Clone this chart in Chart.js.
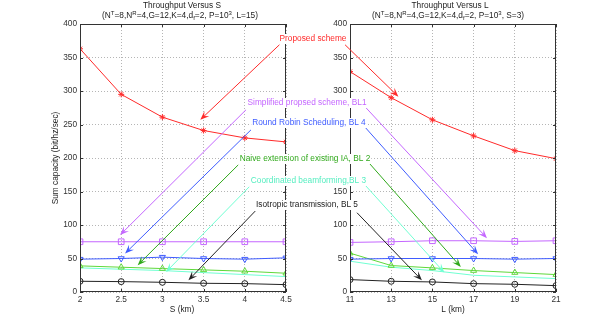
<!DOCTYPE html>
<html>
<head>
<meta charset="utf-8">
<script src="https://cdn.jsdelivr.net/npm/chart.js@4.4.0/dist/chart.umd.min.js"></script>
<style>
body { margin: 0; background: #fff; }
#wrap { position: relative; width: 614px; height: 329px; overflow: hidden; }
#wrap canvas { position: absolute; left: 0; top: 0; }
.ttl { position: absolute; transform: translateX(-50%); font: 8.3px "Liberation Sans", Arial, sans-serif; color: #222; white-space: nowrap; line-height: 9px; }
.ttl sup { font-size: 6px; vertical-align: 3px; line-height: 0; }
.ttl sub { font-size: 6px; vertical-align: -2px; line-height: 0; }
</style>
</head>
<body>
<div id="wrap">
  <canvas id="left" width="614" height="329"></canvas>
  <canvas id="right" width="614" height="329"></canvas>
  <canvas id="overlay" width="614" height="329"></canvas>
  <div class="ttl" style="left:182px; top:1px;">Throughput Versus S</div>
  <div class="ttl" style="left:180px; top:11px;">(N<sup>T</sup>=8,N<sup>R</sup>=4,G=12,K=4,d<sub>f</sub>=2, P=10<sup>3</sup>, L=15)</div>
  <div class="ttl" style="left:450px; top:1px;">Throughput Versus L</div>
  <div class="ttl" style="left:448px; top:11px;">(N<sup>T</sup>=8,N<sup>R</sup>=4,G=12,K=4,d<sub>f</sub>=2, P=10<sup>3</sup>, S=3)</div>
</div>
<script>
(function() {
    'use strict';

    // x values
    var sValues = [2, 2.5, 3, 3.5, 4, 4.5];
    var lValues = [11, 13, 15, 17, 19, 21];
    var yTicks = [0, 50, 100, 150, 200, 250, 300, 350, 400];

    // throughput versus S
    var proposedS = [363, 295, 261, 241, 230, 224];
    var bl1S = [75, 75, 75, 75, 75, 75];
    var bl4S = [49, 50, 52, 50, 49, 51];
    var bl2S = [39, 37, 35, 33, 31, 28];
    var bl3S = [36, 34, 32, 29, 26, 23];
    var bl5S = [16, 15.5, 14.5, 13, 12.5, 11];

    // throughput versus L
    var proposedL = [329, 290, 257, 233, 211, 199];
    var bl1L = [74, 75, 76.5, 76.5, 75.5, 76.5];
    var bl4L = [49, 50, 50, 50, 49, 50];
    var bl2L = [58, 39.5, 36, 32, 29, 26];
    var bl3L = [46, 37, 32, 25, 22.5, 20];
    var bl5L = [18.5, 16, 15, 12.5, 11.5, 9.5];

    var FONT = '"Liberation Sans", Arial, sans-serif';
    var RED = '#ff2a2a', MAG = '#c466ff', BLUE = '#3f5cff',
        GREEN = '#5fd83a', GREEN_TXT = '#2fa81a', CYAN = '#70ffd2', CYAN_TXT = '#55eec0', BLACK = '#222';

    function series(data, color, style, rotation, radius) {
        return {
            data: data,
            borderColor: color,
            backgroundColor: 'transparent',
            borderWidth: 1,
            pointStyle: style,
            pointRotation: rotation || 0,
            pointRadius: style === false ? 0 : (radius || 3),
            pointBorderColor: color,
            pointBorderWidth: 1,
            tension: 0
        };
    }

    function pairs(xs, ys) {
        return xs.map(function(x, i) { return { x: x, y: ys[i] }; });
    }

    // box + inward ticks like the original
    var boxPlugin = {
        id: 'box',
        afterDraw: function(chart) {
            var a = chart.chartArea, ctx = chart.ctx;
            var xs = chart.scales.x, ys = chart.scales.y;
            ctx.save();
            ctx.strokeStyle = '#333';
            ctx.lineWidth = 1;
            ctx.strokeRect(a.left + 0.5, a.top + 0.5, a.right - a.left - 1, a.bottom - a.top - 1);
            ctx.beginPath();
            xs.ticks.forEach(function(t) {
                var px = Math.round(xs.getPixelForValue(t.value)) + 0.5;
                ctx.moveTo(px, a.bottom); ctx.lineTo(px, a.bottom - 3);
                ctx.moveTo(px, a.top); ctx.lineTo(px, a.top + 3);
            });
            ys.ticks.forEach(function(t) {
                var py = Math.round(ys.getPixelForValue(t.value)) + 0.5;
                ctx.moveTo(a.left, py); ctx.lineTo(a.left + 3, py);
                ctx.moveTo(a.right, py); ctx.lineTo(a.right - 3, py);
            });
            ctx.stroke();
            ctx.restore();
        }
    };

    function makeChart(id, xs, sets, xMin, xMax, padLeft, padRight) {
        return new Chart(document.getElementById(id), {
            type: 'line',
            data: {
                datasets: [
                    series(pairs(xs, sets[0]), RED, 'star', 0, 3),
                    series(pairs(xs, sets[1]), MAG, 'rect', 0, 4),
                    series(pairs(xs, sets[2]), BLUE, 'triangle', 180, 3.5),
                    series(pairs(xs, sets[3]), GREEN, 'triangle', 0, 3.5),
                    series(pairs(xs, sets[4]), CYAN, false),
                    series(pairs(xs, sets[5]), BLACK, 'circle', 0, 3)
                ]
            },
            options: {
                responsive: false,
                animation: false,
                events: [],
                layout: { padding: { left: padLeft, right: padRight, top: 24, bottom: 0 } },
                plugins: { legend: { display: false }, tooltip: { enabled: false } },
                scales: {
                    x: {
                        type: 'linear', min: xMin, max: xMax,
                        afterFit: function(s) { s.height = 37; },
                        afterBuildTicks: function(s) {
                            s.ticks = xs.map(function(v) { return { value: v }; });
                        },
                        ticks: {
                            padding: 3, color: '#333', font: { family: FONT, size: 8.3 },
                            callback: function(v) { return String(v); }
                        },
                        grid: { color: '#b5b5b5', drawTicks: false },
                        border: { display: false, dash: [1, 2] }
                    },
                    y: {
                        min: 0, max: 400,
                        afterFit: function(s) { s.width = 80; },
                        afterBuildTicks: function(s) {
                            s.ticks = yTicks.map(function(v) { return { value: v }; });
                        },
                        ticks: {
                            padding: 3, color: '#333', font: { family: FONT, size: 8.3 },
                            callback: function(v) { return String(v); }
                        },
                        grid: { color: '#b5b5b5', drawTicks: false },
                        border: { display: false, dash: [1, 2] }
                    }
                }
            },
            plugins: [boxPlugin]
        });
    }

    var left = makeChart('left', sValues, [proposedS, bl1S, bl4S, bl2S, bl3S, bl5S], 2, 4.5, 0, 328);
    var right = makeChart('right', lValues, [proposedL, bl1L, bl4L, bl2L, bl3L, bl5L], 11, 21, 270, 58);

    // annotation arrows: [tailX, tailY, tipX, tipY] in each panel's data units
    var notes = [
        { text: 'Proposed scheme', color: RED, arrow: RED, x: 313, y: 39,
          s: [4.42, 369, 3.46, 257], l: [10.76, 369, 13.35, 291.6] },
        { text: 'Simplified propsed scheme, BL1', color: MAG, arrow: MAG, x: 307, y: 103,
          s: [4.015, 272, 2.486, 85], l: [11.73, 276.5, 17.65, 80.4] },
        { text: 'Round Robin Scheduling, BL 4', color: BLUE, arrow: BLUE, x: 309, y: 123,
          s: [4.075, 242, 2.547, 57.5], l: [11.76, 245, 17.22, 56.4] },
        { text: 'Naive extension of existing IA, BL 2', color: GREEN_TXT, arrow: GREEN_TXT, x: 305, y: 159,
          s: [3.92, 189.7, 2.70, 40], l: [11.97, 191, 16.38, 37.4] },
        { text: 'Coordinated beamforming,BL 3', color: CYAN_TXT, arrow: CYAN, x: 308.5, y: 181,
          s: [4.054, 157, 3.045, 30], l: [11.73, 159.7, 15.58, 29] },
        { text: 'Isotropic transmission, BL 5', color: BLACK, arrow: BLACK, x: 307, y: 205,
          s: [4.127, 120.8, 3.316, 17.5], l: [11.34, 118.3, 14.49, 17.5] }
    ];

    var ctx = document.getElementById('overlay').getContext('2d');

    function drawArrow(chart, a, color) {
        var x1 = chart.scales.x.getPixelForValue(a[0]), y1 = chart.scales.y.getPixelForValue(a[1]);
        var x2 = chart.scales.x.getPixelForValue(a[2]), y2 = chart.scales.y.getPixelForValue(a[3]);
        var ang = Math.atan2(y2 - y1, x2 - x1);
        var len = 9, half = 3.5;
        ctx.strokeStyle = color;
        ctx.fillStyle = color;
        ctx.lineWidth = 1;
        ctx.beginPath();
        ctx.moveTo(x1, y1);
        ctx.lineTo(x2 - Math.cos(ang) * 5, y2 - Math.sin(ang) * 5);
        ctx.stroke();
        ctx.save();
        ctx.translate(x2, y2);
        ctx.rotate(ang);
        ctx.beginPath();
        ctx.moveTo(0, 0);
        ctx.lineTo(-len, -half);
        ctx.lineTo(-len * 0.6, 0);
        ctx.lineTo(-len, half);
        ctx.closePath();
        ctx.fill();
        ctx.restore();
    }

    ctx.textAlign = 'center';
    ctx.textBaseline = 'middle';
    ctx.font = '8.3px ' + FONT;
    notes.forEach(function(n) {
        drawArrow(left, n.s, n.arrow);
        drawArrow(right, n.l, n.arrow);
    });
    // text boxes have a white background, they cut the panel borders
    notes.forEach(function(n) {
        var w = ctx.measureText(n.text).width;
        ctx.fillStyle = '#fff';
        ctx.fillRect(n.x - w / 2 - 1, n.y - 5, w + 2, 10);
        ctx.fillStyle = n.color;
        ctx.fillText(n.text, n.x, n.y);
    });

    // axis titles
    ctx.fillStyle = '#222';
    ctx.fillText('S (km)', 182, 310);
    ctx.fillText('L (km)', 453, 310);
    ctx.save();
    ctx.translate(56, 158);
    ctx.rotate(-Math.PI / 2);
    ctx.fillText('Sum capacity (bit/hz/sec)', 0, 0);
    ctx.restore();
})();
</script>
</body>
</html>
